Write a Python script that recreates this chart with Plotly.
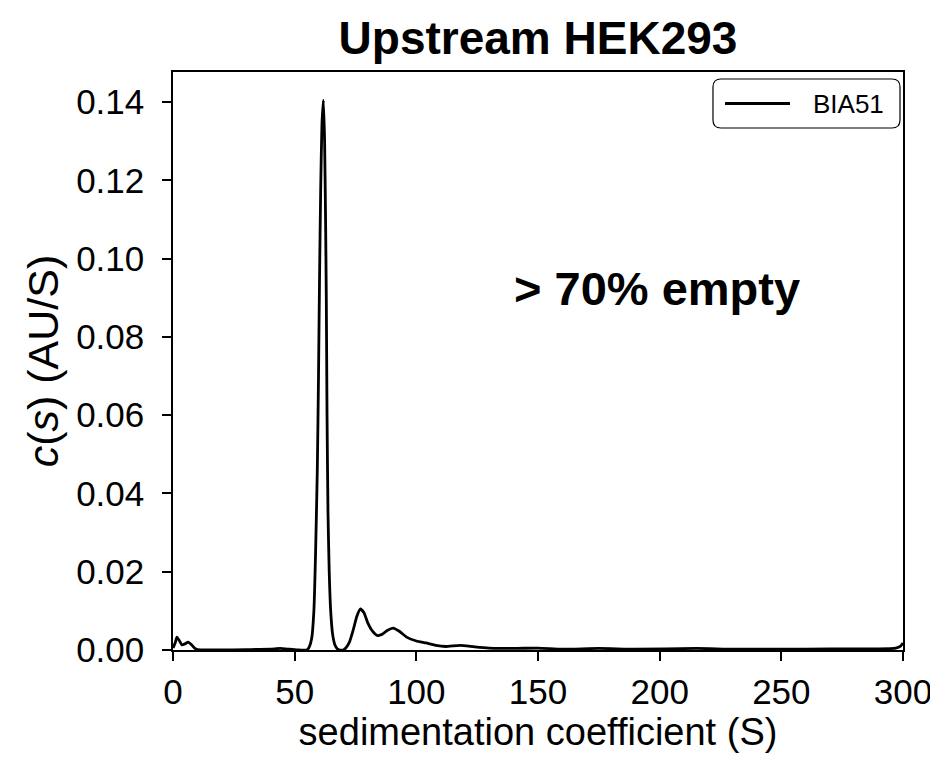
import plotly.graph_objects as go

# Sedimentation coefficient (S) and c(s) (AU/S)
s_values = [0, 1, 1.6, 2.5, 3.7, 5, 6.2, 7.5, 9, 10, 15, 20, 30, 40, 44, 48, 52, 55,
            56, 57, 57.9, 58.6, 59.3, 59.8, 60.2, 60.7, 61.2, 61.8, 62.3, 62.7, 63.0,
            63.3, 63.7, 64.2, 64.8, 65.6, 66.6, 67.5, 68.5, 70, 71, 72.5, 74, 75.5, 77,
            78.5, 80, 82, 84, 86, 88, 90.5, 93, 96, 100, 104, 108, 112, 118, 124, 130,
            140, 150, 160, 175, 190, 215, 230, 250, 270, 290, 297, 299, 300]
cs_values = [0.0005, 0.002, 0.0033, 0.0025, 0.0013, 0.0016, 0.002, 0.0014, 0.0004, 0.0001,
             0.0, 0.0, 0.0001, 0.0002, 0.0004, 0.0002, 0.0, 0.0,
             0.0008, 0.003, 0.010, 0.025, 0.046, 0.070, 0.094, 0.118, 0.134, 0.1405,
             0.130, 0.110, 0.090, 0.060, 0.035, 0.020, 0.010, 0.004, 0.0012, 0.0003, 0.0,
             0.0, 0.0005, 0.002, 0.005, 0.0085, 0.0105, 0.0095, 0.007, 0.0048, 0.0037,
             0.004, 0.005, 0.0056, 0.0048, 0.0033, 0.0023, 0.0018, 0.0012, 0.0009, 0.0012,
             0.0008, 0.0005, 0.0004, 0.0005, 0.0002, 0.0004, 0.0002, 0.0004, 0.0002,
             0.0002, 0.0003, 0.0003, 0.0005, 0.001, 0.0018]

x_ticks = [0, 50, 100, 150, 200, 250, 300]
y_ticks = [0.00, 0.02, 0.04, 0.06, 0.08, 0.10, 0.12, 0.14]
y_tick_labels = ["0.00", "0.02", "0.04", "0.06", "0.08", "0.10", "0.12", "0.14"]

series_name = "BIA51"
title_text = "Upstream HEK293"
note_text = "> 70% empty"

FONT = "Liberation Sans, Arial, sans-serif"

# page body has an 8px default margin, so the figure is sized to fill the rest
FIG_W, FIG_H = 930, 754

fig = go.Figure()
fig.add_trace(go.Scatter(x=s_values, y=cs_values, mode="lines", name=series_name,
                         line=dict(color="black", width=2.8, shape="spline", smoothing=0.5),
                         showlegend=False))

# legend frame geometry (paper coords)
lx0, lx1, ly0, ly1 = 0.7397, 0.9959, 0.9031, 0.9879
rx, ry = 0.011, 0.0138
legend_path = (f"M {lx0+rx},{ly1} L {lx1-rx},{ly1} Q {lx1},{ly1} {lx1},{ly1-ry} "
               f"L {lx1},{ly0+ry} Q {lx1},{ly0} {lx1-rx},{ly0} L {lx0+rx},{ly0} "
               f"Q {lx0},{ly0} {lx0},{ly0+ry} L {lx0},{ly1-ry} Q {lx0},{ly1} {lx0+rx},{ly1} Z")

fig.update_layout(
    width=FIG_W, height=FIG_H,
    paper_bgcolor="white", plot_bgcolor="white",
    margin=dict(l=165, r=35, t=64, b=112, autoexpand=False),
    font=dict(family=FONT, color="black"),
    title=dict(text="<b>" + title_text + "</b>", x=0.5, xref="paper", xanchor="center",
               y=1 - 30 / FIG_H, yref="container", yanchor="middle",
               font=dict(size=46, family=FONT, color="black")),
    xaxis=dict(range=[0, 300], tickvals=x_ticks, ticks="outside", ticklen=9, tickwidth=1.5,
               tickcolor="black", showline=True, linecolor="black", linewidth=1.5, mirror=True,
               showgrid=False, zeroline=False, tickfont=dict(size=35), automargin=False,
               ticklabelstandoff=1,
               title=dict(text="sedimentation coefficient (S)", font=dict(size=38), standoff=8)),
    yaxis=dict(range=[0, 0.1477], tickvals=y_ticks, ticktext=y_tick_labels, ticks="outside",
               ticklen=9, tickwidth=1.5, tickcolor="black", showline=True, linecolor="black",
               linewidth=1.5, mirror=True, showgrid=False, zeroline=False,
               tickfont=dict(size=35), automargin=False, ticklabelstandoff=11,
               title=dict(text="<i>c</i>(<i>s</i>) (AU/S)", font=dict(size=43), standoff=4)),
    annotations=[
        dict(x=199, y=0.0925, xref="x", yref="y", text="<b>" + note_text + "</b>",
             showarrow=False, font=dict(size=47, family=FONT, color="black"),
             xanchor="center", yanchor="middle"),
        dict(x=0.926, y=0.9455, xref="paper", yref="paper", text=series_name,
             showarrow=False, font=dict(size=26, family=FONT, color="black"),
             xanchor="center", yanchor="middle"),
    ],
    shapes=[
        dict(type="path", xref="paper", yref="paper", path=legend_path,
             line=dict(color="black", width=1.2), fillcolor="white"),
        dict(type="line", xref="paper", yref="paper", x0=0.7562, x1=0.8452, y0=0.9455, y1=0.9455,
             line=dict(color="black", width=2.8)),
    ],
)

fig.write_html("out.html")
